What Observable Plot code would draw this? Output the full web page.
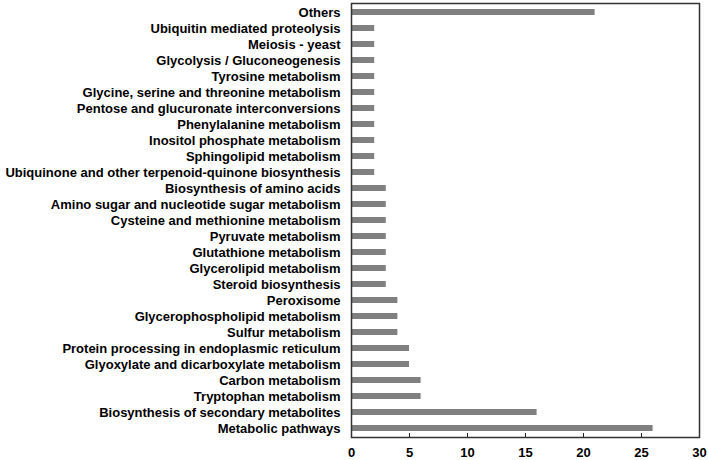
<!DOCTYPE html>
<html>
<head>
<meta charset="utf-8">
<script src="https://cdn.jsdelivr.net/npm/d3@7"></script>
<script src="https://cdn.jsdelivr.net/npm/@observablehq/plot@0.6"></script>
<style>
  html, body { margin: 0; padding: 0; background: #fff; }
  #chart svg { display: block; }
</style>
</head>
<body>
<div id="chart"></div>
<script>
const categories = [
  "Others",
  "Ubiquitin mediated proteolysis",
  "Meiosis - yeast",
  "Glycolysis / Gluconeogenesis",
  "Tyrosine metabolism",
  "Glycine, serine and threonine metabolism",
  "Pentose and glucuronate interconversions",
  "Phenylalanine metabolism",
  "Inositol phosphate metabolism",
  "Sphingolipid metabolism",
  "Ubiquinone and other terpenoid-quinone biosynthesis",
  "Biosynthesis of amino acids",
  "Amino sugar and nucleotide sugar metabolism",
  "Cysteine and methionine metabolism",
  "Pyruvate metabolism",
  "Glutathione metabolism",
  "Glycerolipid metabolism",
  "Steroid biosynthesis",
  "Peroxisome",
  "Glycerophospholipid metabolism",
  "Sulfur metabolism",
  "Protein processing in endoplasmic reticulum",
  "Glyoxylate and dicarboxylate metabolism",
  "Carbon metabolism",
  "Tryptophan metabolism",
  "Biosynthesis of secondary metabolites",
  "Metabolic pathways"
];
const counts = [21, 2, 2, 2, 2, 2, 2, 2, 2, 2, 2, 3, 3, 3, 3, 3, 3, 3, 4, 4, 4, 5, 5, 6, 6, 16, 26];
const xTicks = [0, 5, 10, 15, 20, 25, 30];

const data = categories.map((c, i) => ({category: c, value: counts[i]}));

const chart = Plot.plot({
  width: 708,
  height: 460,
  marginLeft: 351,
  marginRight: 9,
  marginTop: 3,
  marginBottom: 23,
  style: {fontFamily: "'Liberation Sans', Arial, sans-serif", background: "#fff"},
  x: {domain: [0, 30]},
  y: {domain: categories, paddingInner: 0.63, paddingOuter: 0.315},
  marks: [
    Plot.barX(data, {x: "value", y: "category", fill: "#808080"}),
    Plot.ruleX(xTicks, {x: d => d, stroke: "#222", strokeWidth: 1, insetTop: 430}),
    Plot.frame({stroke: "#333", strokeWidth: 1.5}),
    Plot.axisX({ticks: xTicks, tickSize: 0, tickPadding: 10, fontSize: 13, fontWeight: "bold", fill: "#000", label: null}),
    Plot.axisY({tickSize: 0, tickPadding: 11, fontSize: 13, fontWeight: "bold", fill: "#000", label: null})
  ]
});
document.getElementById("chart").appendChild(chart);
</script>
</body>
</html>
